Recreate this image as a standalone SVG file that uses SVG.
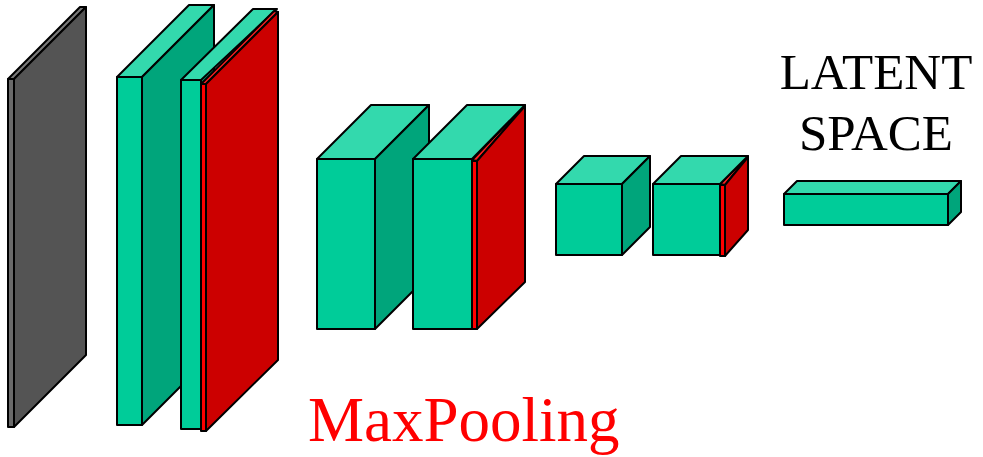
<svg xmlns="http://www.w3.org/2000/svg" width="983" height="457" viewBox="0 0 983 457">
<style>
  .s { stroke: #000; stroke-width: 2; stroke-linejoin: round; }
  .gf { fill: #00CC99; } .gt { fill: #33D9AD; } .gs { fill: #00A57B; }
  .rf { fill: #FF0000; } .rt { fill: #FF2020; } .rs { fill: #CC0000; }
  .kf { fill: #6A6A6A; } .kt { fill: #7A7A7A; } .ks { fill: #545454; }
  text { font-family: "Liberation Serif", "Times New Roman", serif; }
</style>
<rect width="983" height="457" fill="#fff"/>
<g id="input">
  <polygon class="s kt" points="8,79 14,79 86,7 80,7"/>
  <polygon class="s ks" points="14,79 86,7 86,355 14,427"/>
  <rect class="s kf" x="8" y="79" width="6" height="348"/>
</g>
<g id="conv1">
  <polygon class="s gt" points="117,77 142,77 214,5 189,5"/>
  <polygon class="s gs" points="142,77 214,5 214,353 142,425"/>
  <rect class="s gf" x="117" y="77" width="25" height="348"/>
</g>
<g id="conv2">
  <polygon class="s gt" points="181,80 201,80 277,9 253,9"/>
  <rect class="s gf" x="181" y="80" width="20" height="349"/>
  <polygon class="s rt" points="201,84 206,84 278,12 274,11"/>
  <polygon class="s rs" points="206,84 278,12 278,360 206,431"/>
  <rect class="s rf" x="201" y="84" width="5" height="347"/>
</g>
<g id="conv3">
  <polygon class="s gt" points="317,159 375,159 429,105 371,105"/>
  <polygon class="s gs" points="375,159 429,105 429,275 375,329"/>
  <rect class="s gf" x="317" y="159" width="58" height="170"/>
</g>
<g id="conv4">
  <polygon class="s rt" points="472,160 477,161 525,106 525,105"/>
  <polygon class="s rs" points="477,161 525,106 525,282 477,329"/>
  <polygon class="s gt" points="413,159 472,159 525,105 467,105"/>
  <rect class="s gf" x="413" y="159" width="59" height="170"/>
  <rect class="s rf" x="472" y="161" width="5" height="168"/>
</g>
<g id="conv5">
  <polygon class="s gt" points="556,184 622,184 650,156 584,156"/>
  <polygon class="s gs" points="622,184 650,156 650,227 622,255"/>
  <rect class="s gf" x="556" y="184" width="66" height="71"/>
</g>
<g id="conv6">
  <polygon class="s rt" points="720,184 725,185 748,157 748,156"/>
  <polygon class="s rs" points="725,185 748,157 748,230 725,256"/>
  <polygon class="s gt" points="653,184 720,184 748,156 681,156"/>
  <rect class="s gf" x="653" y="184" width="67" height="71"/>
  <rect class="s rf" x="720" y="185" width="5" height="71"/>
</g>
<g id="latent">
  <polygon class="s gt" points="784,194 948,194 961,181 797,181"/>
  <polygon class="s gs" points="948,194 961,181 961,212 948,225"/>
  <rect class="s gf" x="784" y="194" width="164" height="31"/>
  <text x="876" y="89" font-size="51" text-anchor="middle" fill="#000">LATENT</text>
  <text x="876" y="150" font-size="51" text-anchor="middle" fill="#000">SPACE</text>
</g>
<g id="maxpooling-label">
  <text x="308" y="441" font-size="63" fill="#FF0000">MaxPooling</text>
</g>
<g id="connectors"/>
</svg>
